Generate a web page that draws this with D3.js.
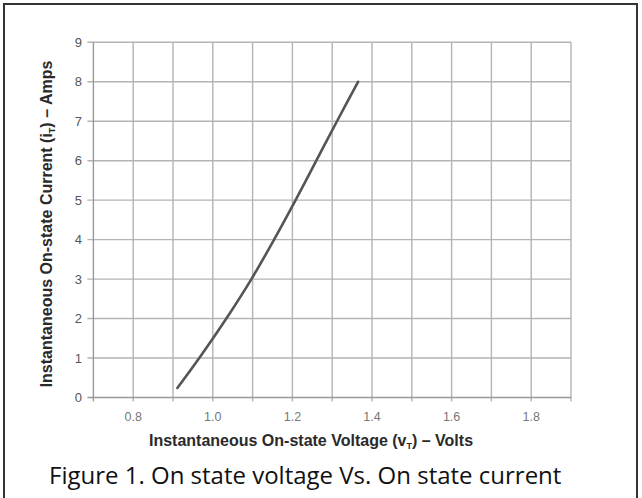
<!DOCTYPE html>
<meta charset="utf-8">
<script src="https://d3js.org/d3.v7.min.js"></script>
<style>
  body { margin: 0; background: #fff; }
</style>
<div id="chart"></div>
<script>
  // data: on-state voltage (V) vs on-state current (A)
  const voltage = [0.911, 0.966, 1.034, 1.097, 1.154, 1.208, 1.260, 1.312, 1.365];
  const current = [0.24, 1, 2, 3, 4, 5, 6, 7, 8];

  const xTicks = [0.8, 1.0, 1.2, 1.4, 1.6, 1.8];
  const xGrid = [0.8, 0.9, 1.0, 1.1, 1.2, 1.3, 1.4, 1.5, 1.6, 1.7, 1.8, 1.9];
  const yTicks = [0, 1, 2, 3, 4, 5, 6, 7, 8, 9];

  const width = 642, height = 498;

  const svg = d3.select("#chart")
    .append("svg")
    .attr("width", width)
    .attr("height", height);

  // outer frame
  svg.append("rect")
    .attr("x", 4).attr("y", 4)
    .attr("width", 633).attr("height", 500)
    .attr("fill", "none")
    .attr("stroke", "#333")
    .attr("stroke-width", 2);

  const x = d3.scaleLinear().domain([0.7, 1.9]).range([93.4, 571]);
  const y = d3.scaleLinear().domain([0, 9]).range([397.5, 42.3]);

  const gridColor = "#b3b3b3";

  // vertical grid lines
  svg.append("g")
    .selectAll("line")
    .data(xGrid)
    .join("line")
    .attr("x1", d => x(d)).attr("x2", d => x(d))
    .attr("y1", y(9)).attr("y2", y(0) + 4)
    .attr("stroke", gridColor)
    .attr("stroke-width", 1.4);

  // horizontal grid lines
  svg.append("g")
    .selectAll("line")
    .data(yTicks)
    .join("line")
    .attr("x1", x(0.7) - 6).attr("x2", x(1.9))
    .attr("y1", d => y(d)).attr("y2", d => y(d))
    .attr("stroke", d => d === 0 ? "#999" : gridColor)
    .attr("stroke-width", 1.4);

  // left axis line
  svg.append("line")
    .attr("x1", x(0.7)).attr("x2", x(0.7))
    .attr("y1", y(9)).attr("y2", y(0) + 4)
    .attr("stroke", "#999")
    .attr("stroke-width", 1.4);

  // y tick labels
  svg.append("g")
    .selectAll("text")
    .data(yTicks)
    .join("text")
    .attr("x", 82)
    .attr("y", d => y(d) + 4.5)
    .attr("text-anchor", "end")
    .attr("font-family", "Liberation Sans, Arial, sans-serif")
    .attr("font-size", 13)
    .attr("fill", "#555")
    .text(d => d);

  // x tick labels
  svg.append("g")
    .selectAll("text")
    .data(xTicks)
    .join("text")
    .attr("x", d => x(d))
    .attr("y", 421)
    .attr("text-anchor", "middle")
    .attr("font-family", "Liberation Sans, Arial, sans-serif")
    .attr("font-size", 12.5)
    .attr("fill", "#777")
    .text(d => d.toFixed(1));

  // the curve
  const line = d3.line()
    .x((d, i) => x(voltage[i]))
    .y(d => y(d))
    .curve(d3.curveCatmullRom.alpha(0.5));

  svg.append("path")
    .datum(current)
    .attr("d", line)
    .attr("fill", "none")
    .attr("stroke", "#555")
    .attr("stroke-width", 2.6)
    .attr("stroke-linecap", "round");

  // axis titles
  const xTitle = svg.append("text")
    .attr("x", 311)
    .attr("y", 446)
    .attr("text-anchor", "middle")
    .attr("font-family", "Liberation Sans, Arial, sans-serif")
    .attr("font-weight", "bold")
    .attr("font-size", 16)
    .attr("fill", "#2a2a2a");
  xTitle.append("tspan").text("Instantaneous On-state Voltage (v");
  xTitle.append("tspan").attr("font-size", 9).attr("dy", 3).text("T");
  xTitle.append("tspan").attr("dy", -3).text(") \u2013 Volts");

  const yTitle = svg.append("text")
    .attr("transform", "translate(52,224) rotate(-90)")
    .attr("text-anchor", "middle")
    .attr("font-family", "Liberation Sans, Arial, sans-serif")
    .attr("font-weight", "bold")
    .attr("font-size", 16)
    .attr("fill", "#2a2a2a");
  yTitle.append("tspan").text("Instantaneous On-state Current (i");
  yTitle.append("tspan").attr("font-size", 9).attr("dy", 3).text("T");
  yTitle.append("tspan").attr("dy", -3).text(") \u2013 Amps");

  // caption
  svg.append("text")
    .attr("x", 49)
    .attr("y", 484)
    .attr("font-family", "Open Sans, sans-serif")
    .attr("font-size", 24)
    .attr("fill", "#111")
    .text("Figure 1. On state voltage Vs. On state current");
</script>
